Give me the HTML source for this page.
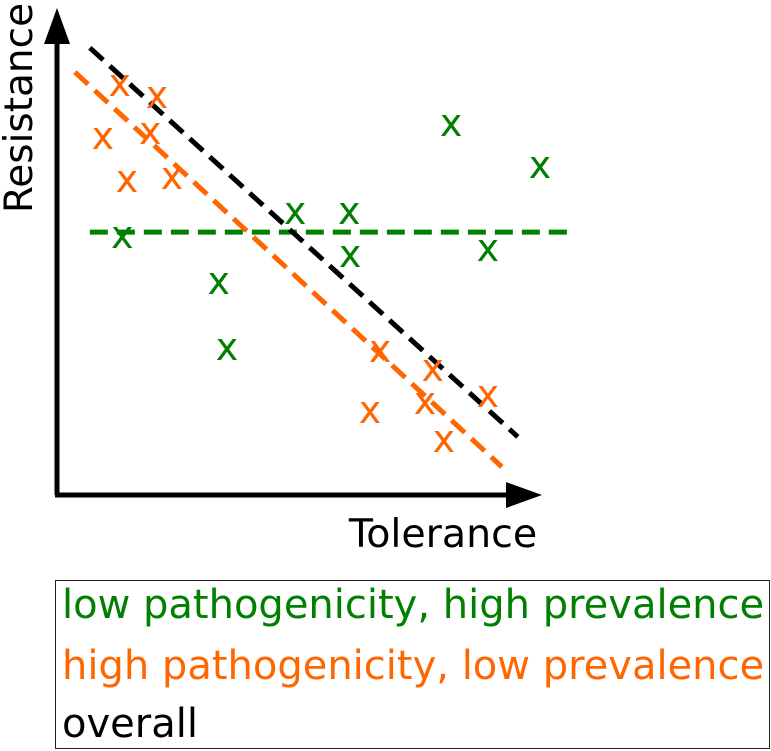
<!DOCTYPE html>
<html><head><meta charset="utf-8"><style>
html,body{margin:0;padding:0;background:#fff;}
svg{display:block;font-family:"DejaVu Sans","Liberation Sans",sans-serif;}
</style></head><body>
<svg id="chart" width="771" height="751" viewBox="0 0 771 751">
<g id="marks"></g>
<line x1="57" y1="495" x2="57" y2="40" stroke="#000" stroke-width="5"/>
<polygon points="57,8 44,44 70,44" fill="#000"/>
<line x1="55" y1="495" x2="510" y2="495" stroke="#000" stroke-width="5"/>
<polygon points="542,495 506,482 506,508" fill="#000"/>
<text x="0" y="0" transform="translate(32,108) rotate(-90)" text-anchor="middle" font-size="39">Resistance</text>
<text x="443" y="547" text-anchor="middle" font-size="39.5">Tolerance</text>
<g>
<rect x="55.5" y="580.5" width="714" height="168" fill="#fff" stroke="#222" stroke-width="1"/>
<text x="62" y="618" font-size="40" fill="#008000">low pathogenicity, high prevalence</text>
<text x="62" y="679" font-size="40" fill="#ff6600">high pathogenicity, low prevalence</text>
<text x="62" y="737" font-size="40" fill="#000">overall</text>
</g>
</svg>
<script>
const orangeX=[13.0,20.7,9.5,19.3,14.5,23.8,66.9,77.8,64.8,76.2,89.2,80.1];
const orangeY=[84.5,82.1,73.6,74.6,64.7,65.4,29.7,25.8,17.1,19.0,20.4,11.1];
const greenX=[81.6,100,49.3,60.5,13.5,60.7,89.2,33.5,35.2];
const greenY=[76.3,67.6,58.1,58.1,53.2,49.3,50.5,43.7,30.1];
const blackLineX=[6.8,95.4];
const blackLineY=[92.2,12.0];
const orangeLineX=[3.7,92.1];
const orangeLineY=[87.2,5.8];
const greenLineX=[6.8,105.8];
const greenLineY=[54.2,54.2];

const NS="http://www.w3.org/2000/svg";
function xScale(v){return 57+v*4.83;}
function yScale(v){return 495-v*4.85;}
const g=document.getElementById('marks');

function addPoints(xs,ys,color,name){
  for(let i=0;i<xs.length;i++){
    const t=document.createElementNS(NS,'text');
    t.setAttribute('x',xScale(xs[i]));
    t.setAttribute('y',yScale(ys[i])+11);
    t.setAttribute('text-anchor','middle');
    t.setAttribute('font-size','38');
    t.setAttribute('fill',color);
    t.textContent='x';
    
    
    g.appendChild(t);
  }
}
function addLine(xs,ys,color,name){
  const l=document.createElementNS(NS,'line');
  l.setAttribute('x1',xScale(xs[0]));l.setAttribute('y1',yScale(ys[0]));
  l.setAttribute('x2',xScale(xs[1]));l.setAttribute('y2',yScale(ys[1]));
  l.setAttribute('stroke',color);l.setAttribute('stroke-width','5');
  l.setAttribute('stroke-dasharray','18 9');
  
  
  g.appendChild(l);
}
addLine(greenLineX,greenLineY,'#008000','green-trend-line');
addLine(orangeLineX,orangeLineY,'#ff6600','orange-trend-line');
addLine(blackLineX,blackLineY,'#000000','overall-trend-line');
addPoints(greenX,greenY,'#008000','green-point');
addPoints(orangeX,orangeY,'#ff6600','orange-point');
</script>
</body></html>
